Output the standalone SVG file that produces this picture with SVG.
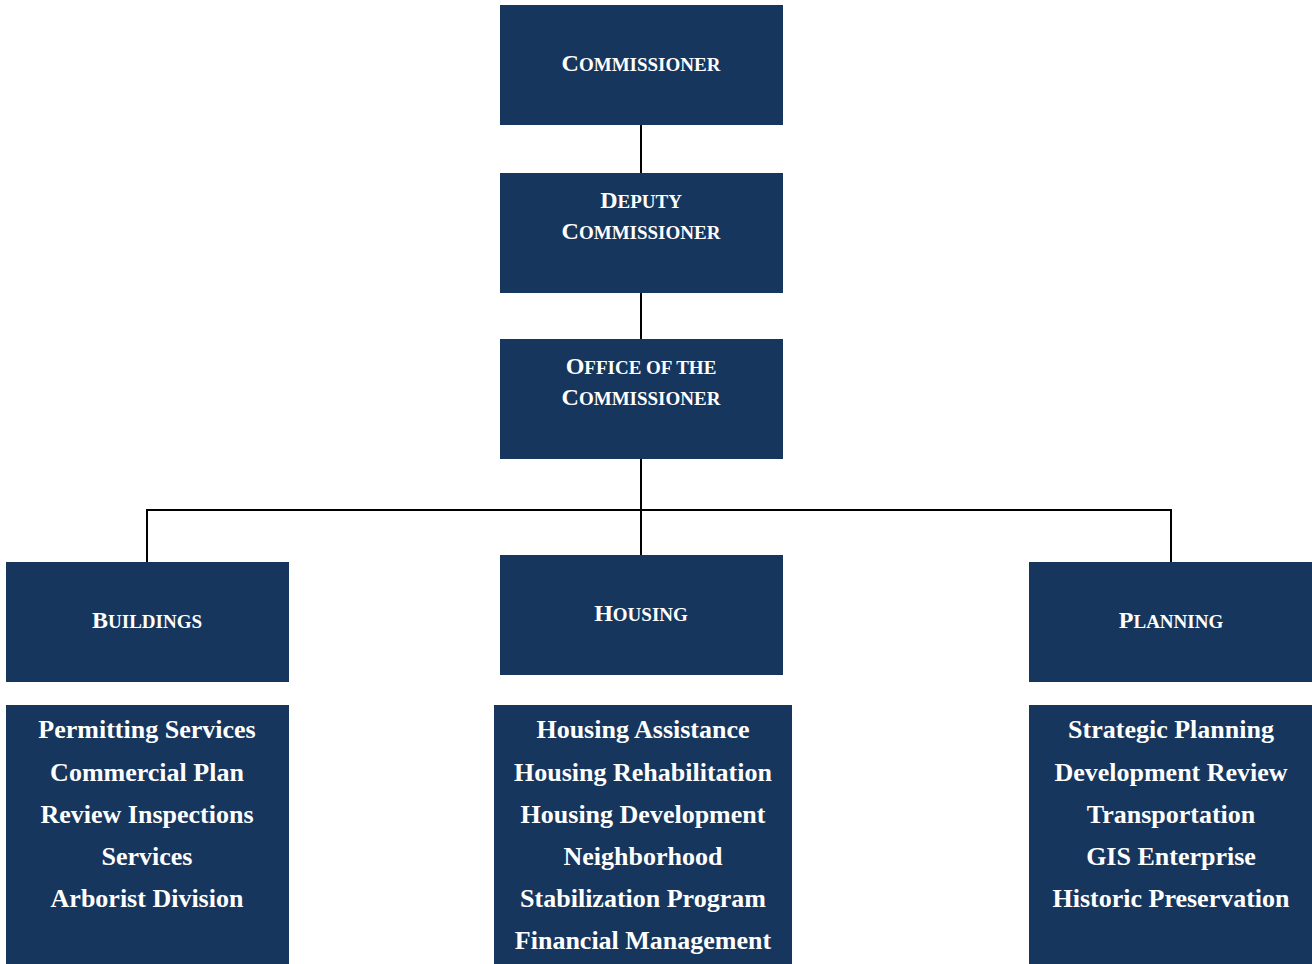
<svg xmlns="http://www.w3.org/2000/svg" width="1312" height="964" viewBox="0 0 1312 964">
  <style>
    .box { fill: #17365d; }
    .title { font-family: "Liberation Serif", "Times New Roman", serif; font-weight: bold; font-size: 24px; fill: #ffffff; text-anchor: middle; }
    .sc { font-size: 19px; }
    .item { font-family: "Liberation Serif", "Times New Roman", serif; font-weight: bold; font-size: 26px; fill: #ffffff; text-anchor: middle; }
    .link { stroke: #000000; stroke-width: 2; fill: none; }
    .tick { stroke: #ffffff; stroke-width: 1; fill: none; }
  </style>

  <!-- reporting lines -->
  <g id="connectors">
    <line class="link" x1="641" y1="125" x2="641" y2="173"/>
    <line class="link" x1="641" y1="293" x2="641" y2="339"/>
    <line class="link" x1="641" y1="459" x2="641" y2="555"/>
    <polyline class="link" points="147,562 147,510 1171,510 1171,562"/>
    <line class="tick" x1="147" y1="679" x2="147" y2="708"/>
    <line class="tick" x1="655" y1="672" x2="655" y2="708"/>
    <line class="tick" x1="1171" y1="679" x2="1171" y2="708"/>
  </g>

  <g id="commissioner">
    <rect class="box" x="500" y="5" width="283" height="120"/>
    <text class="title" x="641" y="71">C<tspan class="sc">OMMISSIONER</tspan></text>
  </g>

  <g id="deputy-commissioner">
    <rect class="box" x="500" y="173" width="283" height="120"/>
    <text class="title" x="641" y="208">D<tspan class="sc">EPUTY</tspan></text>
    <text class="title" x="641" y="239">C<tspan class="sc">OMMISSIONER</tspan></text>
  </g>

  <g id="office-of-the-commissioner">
    <rect class="box" x="500" y="339" width="283" height="120"/>
    <text class="title" x="641" y="374">O<tspan class="sc">FFICE OF THE</tspan></text>
    <text class="title" x="641" y="405">C<tspan class="sc">OMMISSIONER</tspan></text>
  </g>

  <g id="buildings">
    <rect class="box" x="6" y="562" width="283" height="120"/>
    <text class="title" x="147" y="628">B<tspan class="sc">UILDINGS</tspan></text>
  </g>

  <g id="housing">
    <rect class="box" x="500" y="555" width="283" height="120"/>
    <text class="title" x="641" y="621">H<tspan class="sc">OUSING</tspan></text>
  </g>

  <g id="planning">
    <rect class="box" x="1029" y="562" width="283" height="120"/>
    <text class="title" x="1171" y="628">P<tspan class="sc">LANNING</tspan></text>
  </g>

  <g id="buildings-units">
    <rect class="box" x="6" y="705" width="283" height="259"/>
    <text class="item" x="147" y="738">Permitting Services</text>
    <text class="item" x="147" y="781">Commercial Plan</text>
    <text class="item" x="147" y="823">Review Inspections</text>
    <text class="item" x="147" y="865">Services</text>
    <text class="item" x="147" y="907">Arborist Division</text>
  </g>

  <g id="housing-units">
    <rect class="box" x="494" y="705" width="298" height="259"/>
    <text class="item" x="643" y="738">Housing Assistance</text>
    <text class="item" x="643" y="781">Housing Rehabilitation</text>
    <text class="item" x="643" y="823">Housing Development</text>
    <text class="item" x="643" y="865">Neighborhood</text>
    <text class="item" x="643" y="907">Stabilization Program</text>
    <text class="item" x="643" y="949">Financial Management</text>
  </g>

  <g id="planning-units">
    <rect class="box" x="1029" y="705" width="283" height="259"/>
    <text class="item" x="1171" y="738">Strategic Planning</text>
    <text class="item" x="1171" y="781">Development Review</text>
    <text class="item" x="1171" y="823">Transportation</text>
    <text class="item" x="1171" y="865">GIS Enterprise</text>
    <text class="item" x="1171" y="907">Historic Preservation</text>
  </g>
</svg>
